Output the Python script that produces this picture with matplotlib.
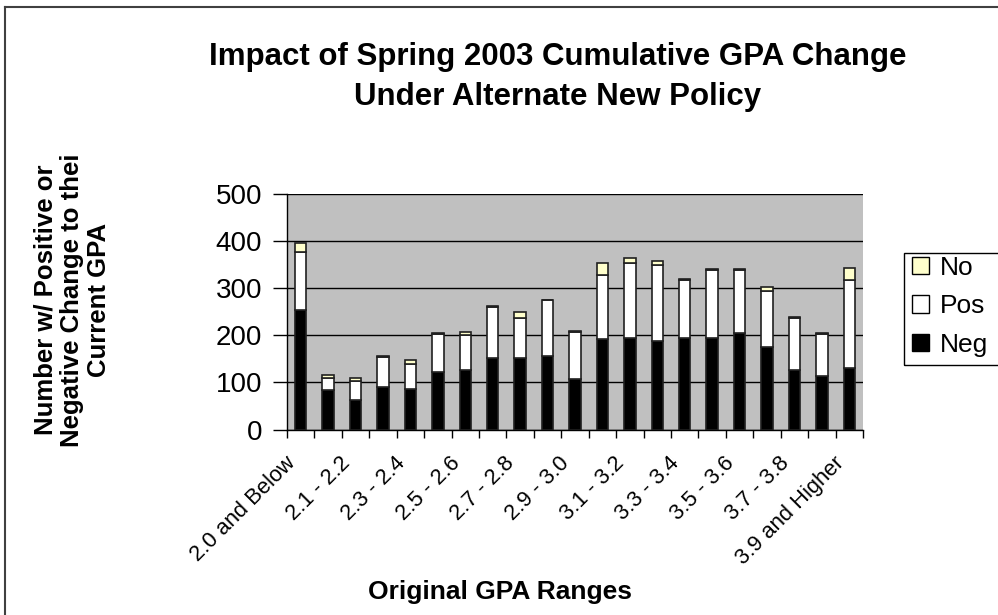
import matplotlib
matplotlib.use("Agg")
import matplotlib.pyplot as plt
from matplotlib.patches import Rectangle, Patch
from matplotlib.lines import Line2D
from matplotlib.transforms import ScaledTranslation
import numpy as np

categories = ["2.0 and Below", "2.0 - 2.1", "2.1 - 2.2", "2.2 - 2.3", "2.3 - 2.4",
              "2.4 - 2.5", "2.5 - 2.6", "2.6 - 2.7", "2.7 - 2.8", "2.8 - 2.9",
              "2.9 - 3.0", "3.0 - 3.1", "3.1 - 3.2", "3.2 - 3.3", "3.3 - 3.4",
              "3.4 - 3.5", "3.5 - 3.6", "3.6 - 3.7", "3.7 - 3.8", "3.8 - 3.9",
              "3.9 and Higher"]
neg = [253, 83, 63, 90, 86, 123, 127, 152, 152, 157, 107, 192, 195, 188, 195, 195, 205, 175, 127, 114, 131]
pos = [123, 26, 40, 64, 54, 80, 74, 108, 85, 117, 101, 137, 158, 162, 123, 143, 133, 120, 109, 88, 187]
no_ = [21, 7, 7, 2, 7, 2, 6, 2, 12, 2, 1, 25, 11, 7, 2, 2, 2, 7, 2, 2, 25]
yticks = [0, 100, 200, 300, 400, 500]

W, H = 998, 615
fig = plt.figure(figsize=(W / 100, H / 100), dpi=100)
plt.rcParams['font.family'] = ['Liberation Sans', 'DejaVu Sans']

def fx(x):
    return x / W

def fy(y):
    return 1 - y / H

ax = fig.add_axes([fx(287), fy(429.5), fx(863) - fx(287), fy(194) - fy(429.5)])
ax.set_facecolor('#C0C0C0')

x = np.arange(len(categories))
bw = 0.42
ec = '#202020'
lw = 1.2
ax.bar(x, neg, bw, color='black', edgecolor=ec, linewidth=lw, label='Neg', zorder=3)
ax.bar(x, pos, bw, bottom=neg, color='white', edgecolor=ec, linewidth=lw, label='Pos', zorder=3)
bot2 = np.array(neg) + np.array(pos)
ax.bar(x, no_, bw, bottom=bot2, color='#FFFFCC', edgecolor=ec, linewidth=lw, label='No', zorder=3)

ax.set_xlim(-0.5, len(categories) - 0.5)
ax.set_ylim(0, 500)
ax.set_yticks(yticks)
ax.set_yticklabels([str(v) for v in yticks], fontsize=20)
ax.yaxis.grid(True, color='black', linewidth=1.0)
ax.set_axisbelow(True)
ax.tick_params(axis='y', length=10, width=1, direction='out', pad=8)

# x ticks: marks at category boundaries, labels every other category
ax.set_xticks(np.arange(len(categories) + 1) - 0.5, minor=False)
ax.set_xticklabels([''] * (len(categories) + 1))
ax.tick_params(axis='x', length=6, width=1, direction='out')
ax.set_xticks(x[::2], minor=True)
labs = ax.set_xticklabels([categories[i] for i in x[::2]], minor=True, rotation=45,
                          ha='right', va='top', rotation_mode='anchor', fontsize=15.8)
ax.tick_params(axis='x', which='minor', length=0, pad=10)
off = ScaledTranslation(-16 / 100, -9 / 100, fig.dpi_scale_trans)
for t in labs:
    t.set_transform(t.get_transform() + off)

for s in ['top', 'right']:
    ax.spines[s].set_visible(False)
for s in ['left', 'bottom']:
    ax.spines[s].set_color('black')
    ax.spines[s].set_linewidth(1.0)

# Title
fig.text(fx(558), fy(77), "Impact of Spring 2003 Cumulative GPA Change\nUnder Alternate New Policy",
         ha='center', va='center', fontsize=22.5, fontweight='bold', linespacing=1.45)

# Axis labels
fig.text(fx(500), fy(592), "Original GPA Ranges", ha='center', va='center',
         fontsize=19, fontweight='bold')
fig.text(fx(72), fy(300), "Number w/ Positive or\nNegative Change to thei\nCurrent GPA",
         ha='center', va='center', rotation=90, fontsize=18.5, fontweight='bold',
         multialignment='center', linespacing=1.15)

# Legend
handles = [Patch(facecolor='#FFFFCC', edgecolor='black', linewidth=1.0, label='No'),
           Patch(facecolor='white', edgecolor='black', linewidth=1.0, label='Pos'),
           Patch(facecolor='black', edgecolor='black', linewidth=1.0, label='Neg')]
fig.legend(handles=handles, loc='upper left', bbox_to_anchor=(fx(904), fy(248)),
           frameon=False, fontsize=19, handlelength=0.65, handleheight=0.65,
           handletextpad=0.4, labelspacing=0.55, borderpad=0.3, borderaxespad=0)
fig.patches.append(Rectangle((fx(904), fy(365)), 0.5, fy(253) - fy(365),
                             transform=fig.transFigure, facecolor='none',
                             edgecolor='black', linewidth=1.0, clip_on=False))

# Chart-area border (top and left visible)
fig.add_artist(Line2D([fx(5), 1.0], [fy(7), fy(7)], transform=fig.transFigure,
                      color='#404040', linewidth=1.5))
fig.add_artist(Line2D([fx(5), fx(5)], [fy(7), 0.0], transform=fig.transFigure,
                      color='#404040', linewidth=1.5))

fig.savefig('out.png', dpi=100)
